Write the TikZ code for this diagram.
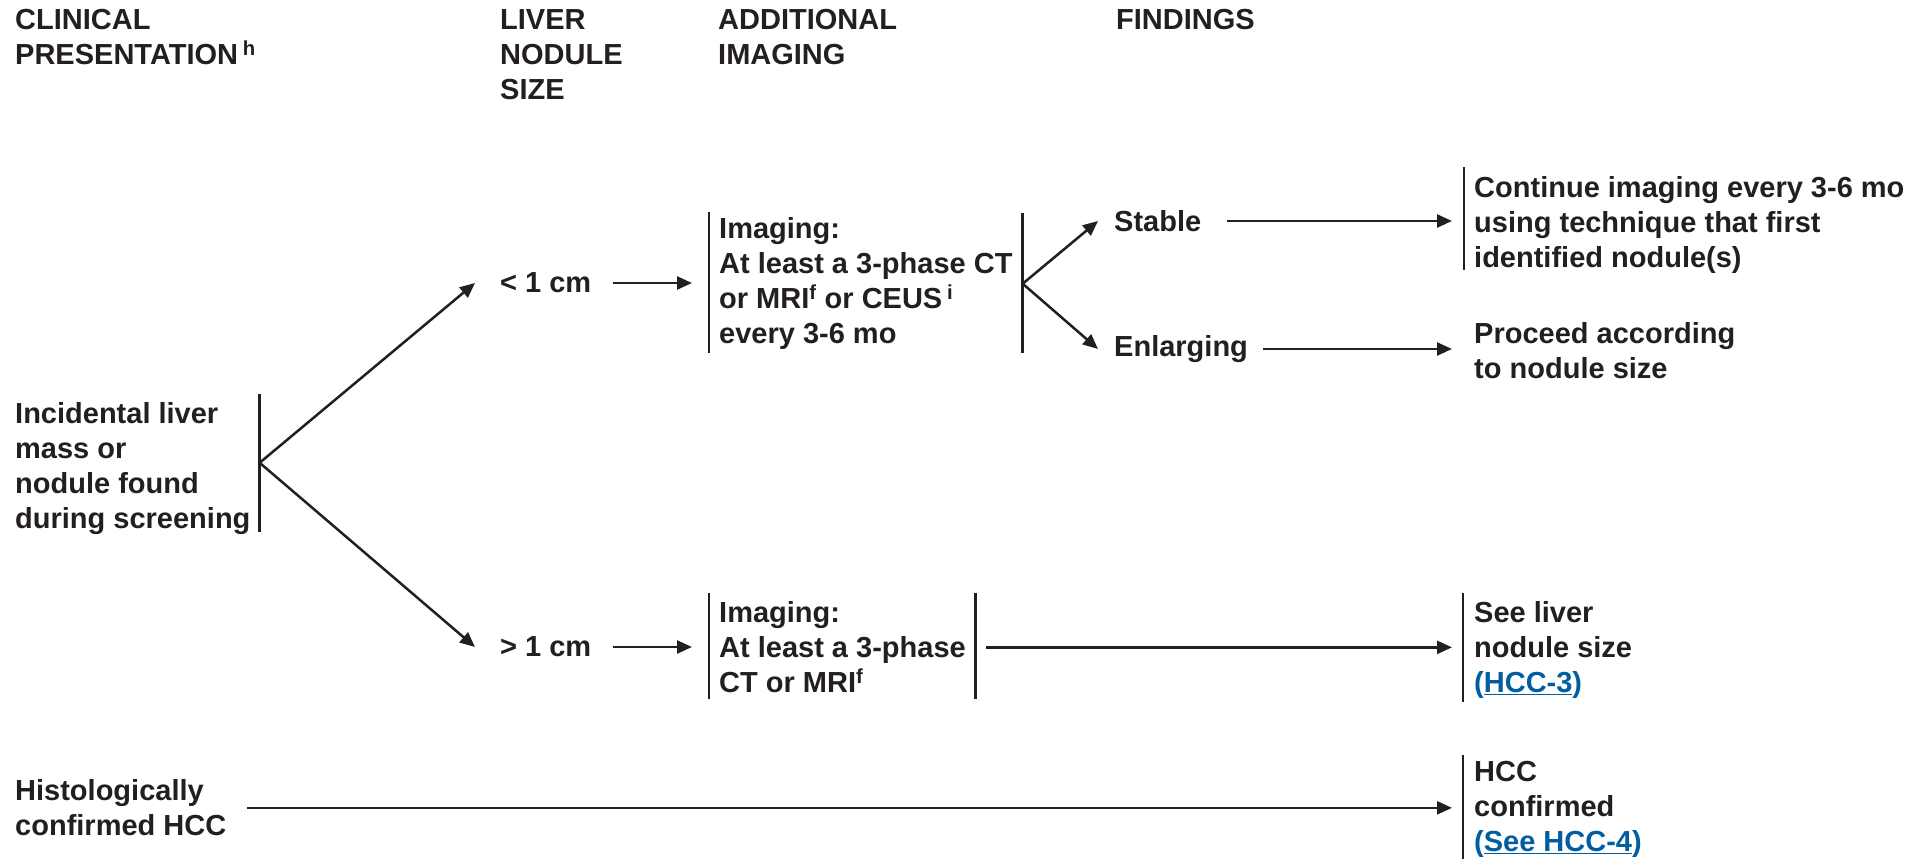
\documentclass[tikz,border=0pt]{standalone}
\usepackage{fontspec}
\setmainfont{Liberation Sans}
\usetikzlibrary{arrows.meta,positioning}
\definecolor{ink}{RGB}{35,31,32}
\definecolor{linkblue}{RGB}{0,94,160}
\newcommand{\lnk}[1]{\textcolor{linkblue}{(\underline{#1})}}

\begin{document}
\begin{tikzpicture}[x=1pt,y=1pt]
\tikzstyle{txt}=[inner sep=0pt,align=left,text=ink,font=\fontsize{29}{35}\selectfont\bfseries]
\tikzstyle{arrow}=[draw=ink,line width=2.5pt,-{Triangle[length=15pt,width=13pt]}]
\tikzstyle{bar}=[draw=ink,line width=2.5pt]
\useasboundingbox (0,0) rectangle (1930,-859);

\node [txt,anchor=north west] at (15,-9.5) (h1) {CLINICAL\\PRESENTATION\,\textsuperscript{h}};
\node [txt,anchor=north west] at (500,-9.5) (h2) {LIVER\\NODULE\\SIZE};
\node [txt,anchor=north west] at (718,-9.5) (h3) {ADDITIONAL\\IMAGING};
\node [txt,anchor=north west] at (1116,-9.5) (h4) {FINDINGS};

\node [txt,anchor=north west] at (15,-402.5) (inc) {Incidental liver\\mass or\\nodule found\\during screening};
\node [txt,anchor=west] at (500,-283) (lt) {< 1 cm};
\node [txt,anchor=west] at (500,-647) (gt) {> 1 cm};
\node [txt,anchor=north west] at (719,-217.5) (imga) {Imaging:\\At least a 3-phase CT\\or MRI\textsuperscript{f} or CEUS\,\textsuperscript{i}\\every 3-6 mo};
\node [txt,anchor=north west] at (719,-601.5) (imgb) {Imaging:\\At least a 3-phase\\CT or MRI\textsuperscript{f}};
\node [txt,anchor=west] at (1114,-221) (stab) {Stable};
\node [txt,anchor=west] at (1114,-349) (enl) {Enlarging};
\node [txt,anchor=north west] at (1474,-176.5) (cont) {Continue imaging every 3-6 mo\\using technique that first\\identified nodule(s)};
\node [txt,anchor=north west] at (1474,-322.5) (proc) {Proceed according\\to nodule size};
\node [txt,anchor=north west] at (1474,-601.5) (seel) {See liver\\nodule size\\\lnk{HCC-3}};
\node [txt,anchor=north west] at (15,-779.5) (hist) {Histologically\\confirmed HCC};
\node [txt,anchor=north west] at (1474,-761.5) (hccc) {HCC\\confirmed\\\lnk{See HCC-4}};

% bars
\draw [bar] ([xshift=9pt,yshift=9pt]inc.north east) -- ([xshift=9pt,yshift=3pt]inc.south east);
\draw [bar] ([xshift=-10pt,yshift=6pt]imga.north west) -- ([xshift=-10pt,yshift=-3pt]imga.south west);
\draw [bar] ([xshift=10pt,yshift=5pt]imga.north east) -- ([xshift=10pt,yshift=-3pt]imga.south east);
\draw [bar] ([xshift=-10pt,yshift=8.5pt]imgb.north west) -- ([xshift=-10pt,yshift=-6pt]imgb.south west);
\draw [bar] ([xshift=9.5pt,yshift=8.5pt]imgb.north east) -- ([xshift=9.5pt,yshift=-6pt]imgb.south east);
\draw [bar] ([xshift=-10pt,yshift=9.5pt]cont.north west) -- ([xshift=-10pt,yshift=3.5pt]cont.south west);
\draw [bar] ([xshift=-11pt,yshift=8.5pt]seel.north west) -- ([xshift=-11pt,yshift=-3.5pt]seel.south west);
\draw [bar] ([xshift=-11pt,yshift=6.5pt]hccc.north west) -- ([xshift=-11pt,yshift=-6pt]hccc.south west);

\coordinate (incj) at ([xshift=9pt,yshift=6pt]inc.east);
\coordinate (imgaj) at ([xshift=10pt]imga.east);

\draw [arrow] (incj) -- ([xshift=-25pt]lt.west);
\draw [arrow] (incj) -- ([xshift=-25pt]gt.west);
\draw [arrow] ([xshift=21pt]lt.east) -- ([xshift=-27pt]lt.east -| imga.west);
\draw [arrow] ([xshift=21pt]gt.east) -- ([xshift=-27pt]gt.east -| imgb.west);
\draw [arrow] (imgaj) -- ([xshift=-16pt]stab.west);
\draw [arrow] (imgaj) -- ([xshift=-16pt]enl.west);
\draw [arrow] ([xshift=26pt]stab.east) -- ([xshift=-22pt]stab.east -| cont.west);
\draw [arrow] ([xshift=15pt]enl.east) -- ([xshift=-22pt]enl.east -| proc.west);
\draw [arrow] ([xshift=20pt]imgb.east) -- ([xshift=-22pt]imgb.east -| seel.west);
\draw [arrow] ([xshift=21pt]hist.east) -- ([xshift=-22pt]hist.east -| hccc.west);
\end{tikzpicture}
\end{document}
